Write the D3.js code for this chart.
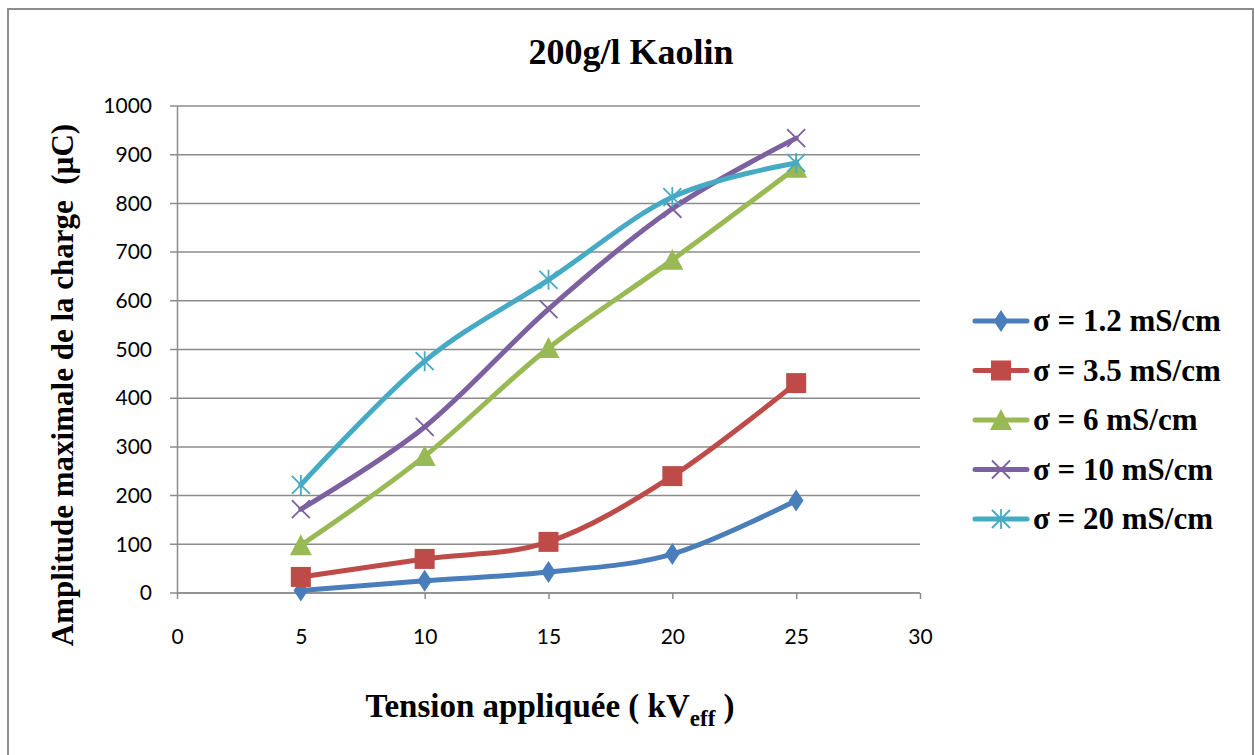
<!DOCTYPE html>
<html><head><meta charset="utf-8">
<script src="https://cdn.jsdelivr.net/npm/d3@7"></script>
<style>body{margin:0;background:#fff}svg{display:block}</style>
</head><body>
<svg id="c" width="1255" height="755"></svg>
<script>
const xValues = [5, 10, 15, 20, 25];
const seriesNames = ["σ = 1.2 mS/cm", "σ = 3.5 mS/cm", "σ = 6 mS/cm", "σ = 10 mS/cm", "σ = 20 mS/cm"];
const s1 = [5, 25, 43, 80, 190];
const s2 = [33, 70, 105, 240, 431];
const s3 = [98, 281, 503, 684, 873];
const s4 = [172, 341, 583, 789, 934];
const s5 = [222, 476, 643, 813, 883];
const xTicks = [0, 5, 10, 15, 20, 25, 30];
const yTicks = [0, 100, 200, 300, 400, 500, 600, 700, 800, 900, 1000];
const colors = ["#4a7ebb", "#be4b48", "#98b954", "#7d60a0", "#46aac5"];
const markers = ["diamond", "square", "triangle", "x", "star"];

const svg = d3.select("#c");
svg.append("rect").attr("x", 8).attr("y", 9).attr("width", 1245).attr("height", 760)
  .attr("fill", "#fff").attr("stroke", "#8c8c8c").attr("stroke-width", 2);

const x = d3.scaleLinear().domain([0, 30]).range([177, 920]);
const y = d3.scaleLinear().domain([0, 1000]).range([593, 106]);

// gridlines
svg.append("g").selectAll("line").data(yTicks).join("line")
  .attr("x1", 170).attr("x2", 920).attr("y1", d => y(d)).attr("y2", d => y(d))
  .attr("stroke", "#8c8c8c").attr("stroke-width", 1.5);

// axes
const yAxis = d3.axisLeft(y).tickValues(yTicks).tickFormat(d3.format("d")).tickSize(0).tickPadding(25);
const gy = svg.append("g").attr("transform", "translate(177,0)").call(yAxis);
gy.select(".domain").attr("stroke", "#8c8c8c").attr("stroke-width", 1.5);
gy.selectAll("text").attr("font-family", "Lato, 'Open Sans', sans-serif").attr("font-size", 21).attr("fill", "#000");

const xAxis = d3.axisBottom(x).tickValues(xTicks).tickFormat(d3.format("d")).tickSize(6).tickPadding(30);
const gx = svg.append("g").attr("transform", "translate(0,593)").call(xAxis);
gx.select(".domain").attr("stroke", "#8c8c8c").attr("stroke-width", 1.5).attr("d", "M177,0H920");
gx.selectAll(".tick line").attr("stroke", "#8c8c8c").attr("stroke-width", 1.5);
gx.selectAll("text").attr("font-family", "Lato, 'Open Sans', sans-serif").attr("font-size", 21).attr("fill", "#000");

const all = [s1, s2, s3, s4, s5];
const line = d3.line().x((d, i) => x(xValues[i])).y(d => y(d)).curve(d3.curveCatmullRom.alpha(0));

function drawMarker(g, type, cx, cy, color, scale) {
  const s = scale || 1;
  if (type === "diamond") {
    g.append("path").attr("d", d3.symbol(d3.symbolDiamond, 140 * s)()).attr("transform", `translate(${cx},${cy}) scale(1.15,1)`).attr("fill", color);
  } else if (type === "square") {
    const h = 10 * s;
    g.append("rect").attr("x", cx - h).attr("y", cy - h).attr("width", 2 * h).attr("height", 2 * h).attr("fill", color);
  } else if (type === "triangle") {
    const h = 11 * s;
    g.append("path").attr("d", `M${cx},${cy - h}L${cx + h},${cy + h * 0.9}L${cx - h},${cy + h * 0.9}Z`).attr("fill", color);
  } else if (type === "x") {
    const h = 9 * s;
    g.append("path").attr("d", `M${cx - h},${cy - h}L${cx + h},${cy + h}M${cx - h},${cy + h}L${cx + h},${cy - h}`).attr("stroke", color).attr("stroke-width", 1.8);
  } else if (type === "star") {
    const h = 9 * s;
    g.append("path").attr("d", `M${cx - h},${cy - h}L${cx + h},${cy + h}M${cx - h},${cy + h}L${cx + h},${cy - h}M${cx},${cy - h - 1}L${cx},${cy + h + 1}`).attr("stroke", color).attr("stroke-width", 1.8);
  }
}

all.forEach((vals, k) => {
  const g = svg.append("g");
  g.append("path").attr("d", line(vals)).attr("fill", "none").attr("stroke", colors[k]).attr("stroke-width", 5).attr("stroke-linecap", "round");
  vals.forEach((v, i) => drawMarker(g, markers[k], x(xValues[i]), y(v), colors[k]));
});

// title
svg.append("text").attr("x", 631).attr("y", 64).attr("text-anchor", "middle")
  .attr("font-family", "'Liberation Serif', serif").attr("font-weight", "bold").attr("font-size", 36)
  .text("200g/l Kaolin");

// x label
const xl = svg.append("text").attr("x", 550).attr("y", 717).attr("text-anchor", "middle")
  .attr("font-family", "'Liberation Serif', serif").attr("font-weight", "bold").attr("font-size", 33);
xl.append("tspan").text("Tension appliquée ( kV");
xl.append("tspan").attr("font-size", 23).attr("dy", 9).text("eff");
xl.append("tspan").attr("dy", -9).text(" )");

// y label
svg.append("text").attr("transform", "translate(73,385) rotate(-90)").attr("text-anchor", "middle")
  .attr("font-family", "'Liberation Serif', serif").attr("font-weight", "bold").attr("font-size", 31)
  .attr("xml:space", "preserve")
  .text("Amplitude maximale de la charge  (µC)");

// legend
seriesNames.forEach((name, k) => {
  const ly = 321 + k * 49.5;
  const g = svg.append("g");
  g.append("line").attr("x1", 975).attr("x2", 1027).attr("y1", ly).attr("y2", ly)
    .attr("stroke", colors[k]).attr("stroke-width", 5).attr("stroke-linecap", "round");
  drawMarker(g, markers[k], 1001, ly, colors[k], 1);
  g.append("text").attr("x", 1033).attr("y", ly + 10)
    .attr("font-family", "'Liberation Serif', serif").attr("font-weight", "bold").attr("font-size", 31)
    .text(name);
});
</script>
</body></html>
